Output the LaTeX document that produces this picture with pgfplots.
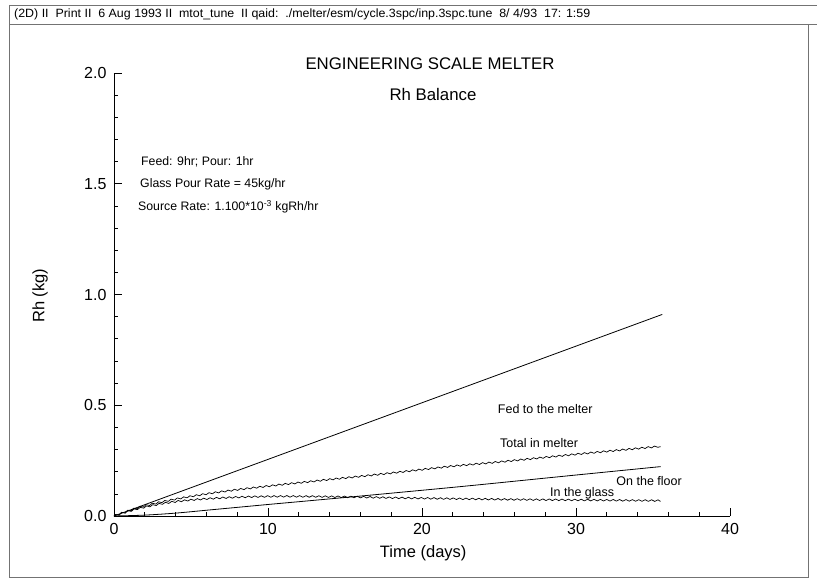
\documentclass[border=0pt]{standalone}
\usepackage{pgfplots}
\pgfplotsset{compat=1.18}
\usepackage{fontspec}
\setmainfont{Liberation Sans}
\usetikzlibrary{decorations.pathmorphing}
\begin{document}
\begin{tikzpicture}
\useasboundingbox (0pt,0pt) rectangle (817pt,579pt);
% page frame
\draw[black!55, line width=0.8pt] (9pt,574pt) -- (817pt,574pt);
\draw[black!55, line width=0.8pt] (9pt,574pt) -- (9pt,2pt) -- (808pt,2pt) -- (808pt,555pt);
\draw[black!55, line width=0.8pt] (9pt,555pt) -- (817pt,555pt);
\node[anchor=west, inner sep=0pt] at (14pt,565pt) {\resizebox{576pt}{\height}{\fontsize{12}{14}\selectfont (2D) II\ \ Print II\ \ 6 Aug 1993 II\ \ mtot\_tune\ \ II qaid:\ \ ./melter/esm/cycle.3spc/inp.3spc.tune\ \ 8/ 4/93\ \ 17: 1:59}};
% titles
\node[font=\fontsize{16.8}{20}\selectfont] at (430pt,515pt) {ENGINEERING SCALE MELTER};
\node[font=\fontsize{16.8}{20}\selectfont] at (433pt,485pt) {Rh Balance};
% annotations
\node[anchor=west, inner sep=0pt, font=\fontsize{12.3}{14}\selectfont] at (141pt,417pt) {Feed: 9hr; Pour: 1hr};
\node[anchor=west, inner sep=0pt, font=\fontsize{12.3}{14}\selectfont] at (140pt,395pt) {Glass Pour Rate = 45kg/hr};
\node[anchor=west, inner sep=0pt, font=\fontsize{12.3}{14}\selectfont] at (138pt,372pt) {Source Rate: 1.100*10\textsuperscript{-3} kgRh/hr};
\begin{axis}[
  at={(114pt,63pt)}, anchor=south west,
  scale only axis, width=616pt, height=443pt,
  xmin=0, xmax=40, ymin=0, ymax=2,
  axis lines*=left,
  axis line style={line width=0.9pt, black},
  tick align=inside,
  xtick={0,10,20,30,40}, minor x tick num=4,
  ytick={0,0.5,1,1.5,2}, minor y tick num=4,
  major tick length=8pt, minor tick length=4pt,
  every tick/.style={black, line width=0.7pt},
  /pgf/number format/assume math mode=true,
  tick label style={font=\fontsize{16}{19}\selectfont},
  yticklabel style={xshift=-4pt, /pgf/number format/.cd, fixed, fixed zerofill, precision=1},
  xticklabel style={yshift=-4pt, /pgf/number format/.cd, fixed},
  xlabel={Time (days)}, ylabel={Rh (kg)},
  every axis x label/.style={at={(axis description cs:0.502,-0.0835)}, anchor=center, font=\fontsize{16.5}{19}\selectfont},
  every axis y label/.style={at={(axis description cs:-0.120,0.497)}, anchor=center, rotate=90, font=\fontsize{16.5}{19}\selectfont},
  clip=false,
]
% Fed to the melter
\addplot[black, line width=0.8pt] coordinates {(0,0) (35.6,0.91)};
% On the floor
\addplot[black, line width=0.8pt, smooth] coordinates {
(0,0) (2,0.004) (4,0.013) (6,0.026) (8,0.039) (10,0.052) (12.7,0.069) (16,0.09) (21.8,0.128) (25,0.15) (30,0.185) (35.5,0.223)};
% Total in melter
\addplot[black, line width=0.7pt, decorate, decoration={snake, amplitude=0.8pt, segment length=6.4pt}] coordinates {
(0,0) (0.5,0.013) (1,0.025) (1.5,0.036) (2,0.045) (3,0.061) (4,0.075) (5,0.087) (6,0.098) (7,0.108) (8,0.117) (9,0.125) (10,0.133) (11,0.141) (12.7,0.153) (14,0.163) (16,0.177) (18,0.192) (20,0.208) (21.8,0.222) (25,0.242) (30,0.277) (35.5,0.313)};
% In the glass
\addplot[black, line width=0.7pt, decorate, decoration={snake, amplitude=0.8pt, segment length=6.4pt}] coordinates {
(0,0) (0.5,0.012) (1,0.022) (1.5,0.032) (2,0.04) (2.5,0.047) (3,0.054) (3.5,0.059) (4,0.064) (5,0.071) (6,0.076) (7,0.08) (8,0.083) (9,0.085) (10,0.086) (11,0.0865) (12.7,0.086) (14,0.085) (16,0.083) (18,0.08) (21.8,0.076) (25,0.073) (30,0.07) (35.5,0.067)};
\node[font=\fontsize{12.5}{15}\selectfont] at (axis cs:28.0,0.483) {Fed to the melter};
\node[font=\fontsize{12.5}{15}\selectfont] at (axis cs:27.6,0.33) {Total in melter};
\node[font=\fontsize{12.5}{15}\selectfont] at (axis cs:34.75,0.158) {On the floor};
\node[font=\fontsize{12.5}{15}\selectfont] at (axis cs:30.4,0.104) {In the glass};
\end{axis}
\end{tikzpicture}
\end{document}
